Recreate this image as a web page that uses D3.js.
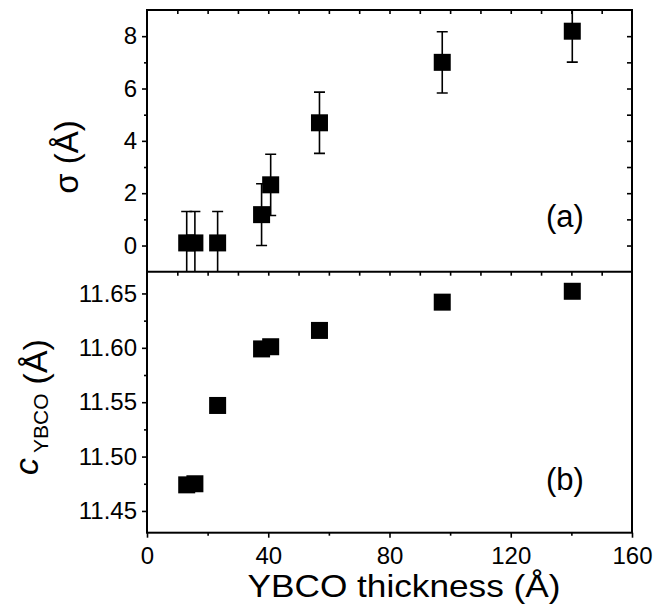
<!DOCTYPE html>
<html>
<head>
<meta charset="utf-8">
<script src="https://cdn.jsdelivr.net/npm/d3@7"></script>
<style>
  body { margin: 0; background: #fff; }
  svg text { font-family: "Liberation Sans", Arial, sans-serif; fill: #000; }
</style>
</head>
<body>
<div id="chart"></div>
<script>
// Data
const thickness = [13.1, 15.8, 23.3, 37.8, 40.8, 56.9, 97.4, 140.3];
const sigma = [0.1, 0.1, 0.1, 1.18, 2.32, 4.69, 7.0, 8.19];
const sigmaErr = [1.2, 1.2, 1.2, 1.18, 1.17, 1.17, 1.17, 1.18];
const cYBCO = [11.474, 11.475, 11.547, 11.599, 11.601, 11.616, 11.642, 11.652];

const xTicks = [0, 40, 80, 120, 160];
const sigmaTicks = [0, 2, 4, 6, 8];
const cTicks = [11.45, 11.50, 11.55, 11.60, 11.65];

// Dimensions
const width = 663,
    height = 611,
    plotLeft = 147,
    plotRight = 632,
    plotTop = 10,
    plotMid = 271.7,
    plotBottom = 532.7;

const x = d3.scaleLinear().domain([0, 160]).range([plotLeft, plotRight]);
const ySig = d3.scaleLinear().domain([-1, 9]).range([plotMid, plotTop]);
const yC = d3.scaleLinear().domain([11.43, 11.67]).range([plotBottom, plotMid]);

const svg = d3.select("#chart")
    .append("svg")
    .attr("width", width)
    .attr("height", height);

const defs = svg.append("defs");
defs.append("clipPath").attr("id", "clipTop")
    .append("rect").attr("x", plotLeft).attr("y", plotTop)
    .attr("width", plotRight - plotLeft).attr("height", plotMid - plotTop);
defs.append("clipPath").attr("id", "clipBot")
    .append("rect").attr("x", plotLeft).attr("y", plotMid)
    .attr("width", plotRight - plotLeft).attr("height", plotBottom - plotMid);

const styleAxis = g => {
    g.select(".domain").remove();
    g.selectAll(".tick line").attr("stroke", "#000").attr("stroke-width", 1.6);
    g.selectAll(".tick text").attr("font-size", 24).attr("fill", "#000")
        .attr("font-family", "'Liberation Sans', Arial, sans-serif");
};

// Left axes (outward)
svg.append("g").attr("transform", `translate(${plotLeft},0)`)
    .call(d3.axisLeft(ySig).tickValues(sigmaTicks).tickSize(5).tickPadding(5).tickFormat(d3.format("d")))
    .call(styleAxis);
svg.append("g").attr("transform", `translate(${plotLeft},0)`)
    .call(d3.axisLeft(ySig).tickValues([1, 3, 5, 7]).tickSize(3).tickFormat(""))
    .call(styleAxis);
svg.append("g").attr("transform", `translate(${plotLeft},0)`)
    .call(d3.axisLeft(yC).tickValues(cTicks).tickSize(5).tickPadding(5).tickFormat(d3.format(".2f")))
    .call(styleAxis);
svg.append("g").attr("transform", `translate(${plotLeft},0)`)
    .call(d3.axisLeft(yC).tickValues([11.475, 11.525, 11.575, 11.625]).tickSize(3).tickFormat(""))
    .call(styleAxis);

// Bottom axis (outward)
svg.append("g").attr("transform", `translate(0,${plotBottom})`)
    .call(d3.axisBottom(x).tickValues(xTicks).tickSize(5).tickPadding(9))
    .call(styleAxis);
svg.append("g").attr("transform", `translate(0,${plotBottom})`)
    .call(d3.axisBottom(x).tickValues([20, 60, 100, 140]).tickSize(3).tickFormat(""))
    .call(styleAxis);

// Inner ticks on top edge and divider
const tens = d3.range(10, 160, 10);
svg.append("g").attr("transform", `translate(0,${plotTop})`)
    .call(d3.axisBottom(x).tickValues(tens).tickSize(4).tickFormat(""))
    .call(styleAxis);
svg.append("g").attr("transform", `translate(0,${plotMid})`)
    .call(d3.axisBottom(x).tickValues(tens).tickSize(4).tickFormat(""))
    .call(styleAxis);

// Right inner ticks on top panel
svg.append("g").attr("transform", `translate(${plotRight},0)`)
    .call(d3.axisLeft(ySig).tickValues(d3.range(0, 9, 1)).tickSize(5).tickFormat(""))
    .call(styleAxis);

// Frames
svg.append("rect").attr("x", plotLeft).attr("y", plotTop)
    .attr("width", plotRight - plotLeft).attr("height", plotBottom - plotTop)
    .attr("fill", "none").attr("stroke", "#000").attr("stroke-width", 2);
svg.append("line").attr("x1", plotLeft).attr("x2", plotRight)
    .attr("y1", plotMid).attr("y2", plotMid)
    .attr("stroke", "#000").attr("stroke-width", 2);

// Top panel: sigma with error bars
const topData = thickness.map((t, i) => ({ t, v: sigma[i], e: sigmaErr[i] }));
const gTop = svg.append("g").attr("clip-path", "url(#clipTop)");
const cap = 5.5;
gTop.selectAll("g.err")
    .data(topData)
    .join("g")
    .attr("class", "err")
    .attr("stroke", "#000")
    .attr("stroke-width", 1.6)
    .each(function (d) {
        const g = d3.select(this);
        const cx = x(d.t);
        g.append("line").attr("x1", cx).attr("x2", cx)
            .attr("y1", ySig(d.v - d.e)).attr("y2", ySig(d.v + d.e));
        g.append("line").attr("x1", cx - cap).attr("x2", cx + cap)
            .attr("y1", ySig(d.v + d.e)).attr("y2", ySig(d.v + d.e));
        g.append("line").attr("x1", cx - cap).attr("x2", cx + cap)
            .attr("y1", ySig(d.v - d.e)).attr("y2", ySig(d.v - d.e));
    });
const sq = 17;
gTop.selectAll("rect")
    .data(topData)
    .join("rect")
    .attr("x", d => x(d.t) - sq / 2)
    .attr("y", d => ySig(d.v) - sq / 2)
    .attr("width", sq)
    .attr("height", sq)
    .attr("fill", "#000");

// Bottom panel: c lattice parameter
const gBot = svg.append("g").attr("clip-path", "url(#clipBot)");
gBot.selectAll("rect")
    .data(thickness.map((t, i) => ({ t, v: cYBCO[i] })))
    .join("rect")
    .attr("x", d => x(d.t) - sq / 2)
    .attr("y", d => yC(d.v) - sq / 2)
    .attr("width", sq)
    .attr("height", sq)
    .attr("fill", "#000");

// Panel labels
svg.append("text").attr("x", 565).attr("y", 227)
    .attr("text-anchor", "middle").attr("font-size", 31).text("(a)");
svg.append("text").attr("x", 565).attr("y", 490)
    .attr("text-anchor", "middle").attr("font-size", 31).text("(b)");

// Axis titles
svg.append("text")
    .attr("x", 404).attr("y", 597)
    .attr("text-anchor", "middle")
    .attr("font-size", 32)
    .attr("textLength", 313)
    .attr("lengthAdjust", "spacingAndGlyphs")
    .text("YBCO thickness (Å)");

svg.append("text")
    .attr("transform", "translate(78,157) rotate(-90)")
    .attr("text-anchor", "middle")
    .attr("font-size", 33)
    .text("σ (Å)");

const cTitle = svg.append("text")
    .attr("transform", "translate(47,407) rotate(-90)")
    .attr("text-anchor", "middle")
    .attr("font-size", 34);
cTitle.append("tspan").attr("font-style", "italic").attr("dy", -9).text("c");
cTitle.append("tspan").attr("font-size", 21).attr("dx", 5).attr("dy", 10).text("YBCO");
cTitle.append("tspan").attr("dy", -1).attr("dx", 9).text("(Å)");
</script>
</body>
</html>
